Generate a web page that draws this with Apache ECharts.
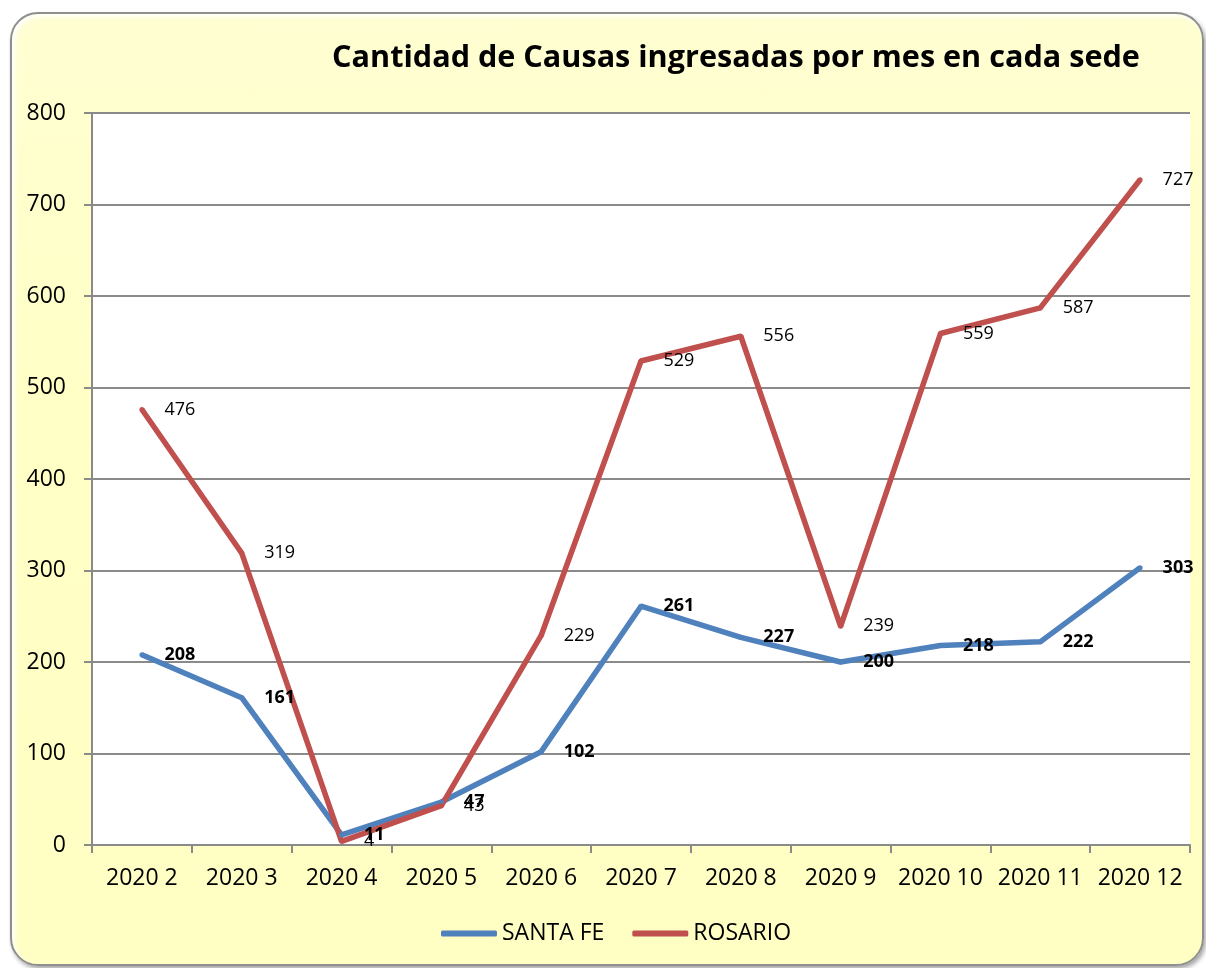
<!DOCTYPE html>
<html>
<head>
<meta charset="utf-8">
<script src="https://cdn.jsdelivr.net/npm/echarts@6/dist/echarts.min.js"></script>
<style>
  html, body { margin: 0; padding: 0; background: #ffffff; }
  #frame {
    position: absolute; left: 10px; top: 12px; width: 1190px; height: 950px;
    border: 2px solid #8e8e8e; border-radius: 28px;
    background: linear-gradient(180deg, #fefed2 0%, #ffffc6 40%, #ffffc4 100%);
    box-shadow: inset 3px 3px 4px rgba(255,255,255,0.9), 2px 3px 4px rgba(0,0,0,0.35);
  }
  #chart { position: absolute; left: 0; top: 0; width: 1206px; height: 968px; }
</style>
</head>
<body>
<div id="frame"></div>
<div id="chart"></div>
<script>
// meses
const categories = ['2020 2', '2020 3', '2020 4', '2020 5', '2020 6', '2020 7', '2020 8', '2020 9', '2020 10', '2020 11', '2020 12'];
const santaFe = [208, 161, 11, 47, 102, 261, 227, 200, 218, 222, 303];
const rosario = [476, 319, 4, 43, 229, 529, 556, 239, 559, 587, 727];
const yTicks = [0, 100, 200, 300, 400, 500, 600, 700, 800];

const font = '"Open Sans", "Noto Sans", sans-serif';
const chart = echarts.init(document.getElementById('chart'));

chart.setOption({
  backgroundColor: 'transparent',
  animation: false,
  title: {
    text: 'Cantidad de Causas ingresadas por mes en cada sede',
    left: 731, top: 38, textAlign: 'center',
    textStyle: { fontFamily: font, fontSize: 30.6, fontWeight: 'bold', color: '#000' }
  },
  legend: {
    bottom: 18, left: 436,
    itemWidth: 56, itemHeight: 6, itemGap: 28,
    icon: 'roundRect',
    textStyle: { fontFamily: font, fontSize: 23, color: '#000' },
    data: ['SANTA FE', 'ROSARIO']
  },
  grid: {
    left: 92, right: 16, top: 113, bottom: 123,
    show: true, backgroundColor: '#ffffff', borderWidth: 0
  },
  xAxis: {
    type: 'category',
    data: categories,
    boundaryGap: true,
    axisLine: { lineStyle: { color: '#8a8a8a', width: 2 } },
    axisTick: { show: true, length: 8, interval: 0, lineStyle: { color: '#8a8a8a', width: 2 } },
    axisLabel: { fontFamily: font, fontSize: 23, color: '#000', margin: 22, interval: 0 }
  },
  yAxis: {
    type: 'value',
    min: yTicks[0], max: yTicks[yTicks.length - 1], interval: 100,
    axisLine: { show: true, lineStyle: { color: '#8a8a8a', width: 2 } },
    axisTick: { show: true, length: 8, lineStyle: { color: '#8a8a8a', width: 2 } },
    splitLine: { lineStyle: { color: '#8a8a8a', width: 2 } },
    axisLabel: { fontFamily: font, fontSize: 23, color: '#000', margin: 26 }
  },
  series: [
    {
      name: 'SANTA FE', type: 'line', data: santaFe,
      symbol: 'circle', symbolSize: 5, showSymbol: true, color: '#4f81bd',
      itemStyle: { color: '#4f81bd' },
      lineStyle: { width: 5.5, color: '#4f81bd' },
      label: {
        show: true, position: 'right', distance: 20,
        fontFamily: font, fontSize: 18, fontWeight: 'bold', color: '#000'
      }
    },
    {
      name: 'ROSARIO', type: 'line', data: rosario,
      symbol: 'circle', symbolSize: 5, showSymbol: true, color: '#c0504d',
      itemStyle: { color: '#c0504d' },
      lineStyle: { width: 5.5, color: '#c0504d' },
      label: {
        show: true, position: 'right', distance: 20,
        fontFamily: font, fontSize: 18, color: '#000'
      }
    }
  ]
});
</script>
</body>
</html>
